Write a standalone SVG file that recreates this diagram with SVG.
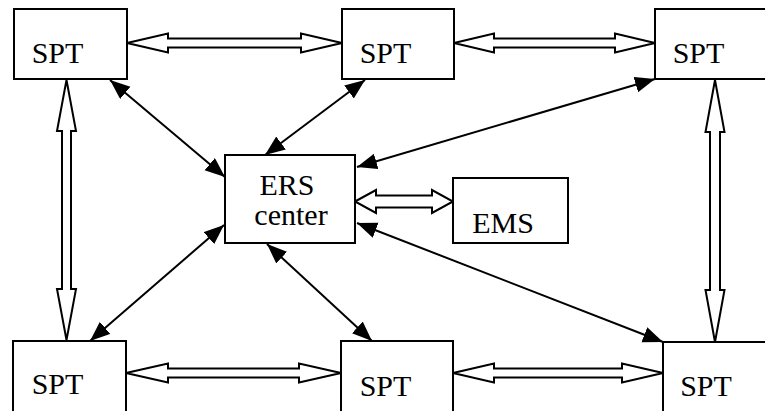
<svg xmlns="http://www.w3.org/2000/svg" width="765" height="411" viewBox="0 0 765 411">
  <style>
    .box { fill: #fff; stroke: #000; stroke-width: 2; }
    .lbl { font-family: "Liberation Serif", "Times New Roman", serif; font-size: 30px; fill: #000; text-anchor: middle; }
    .link { stroke: #000; stroke-width: 2; fill: none; marker-start: url(#head); marker-end: url(#head); }
    .pipe { fill: #fff; stroke: #000; stroke-width: 2; stroke-linejoin: miter; }
  </style>
  <defs>
    <marker id="head" markerUnits="userSpaceOnUse" markerWidth="22" markerHeight="17" refX="20" refY="8" orient="auto-start-reverse">
      <path d="M0,0 L20,8 L0,16 z" fill="#000"/>
    </marker>
  </defs>
  <rect width="765" height="411" fill="#fff"/>

  <!-- hollow two-way links between neighbouring terminals -->
  <g id="connectors">
    <path class="pipe" d="M127,43 L168,33.5 L168,38.5 L301,38.5 L301,33.5 L342,43 L301,52.5 L301,47.5 L168,47.5 L168,52.5 z"/>
    <path class="pipe" d="M454,43 L494,33.5 L494,38.5 L615,38.5 L615,33.5 L655,43 L615,52.5 L615,47.5 L494,47.5 L494,52.5 z"/>
    <path class="pipe" d="M126,373 L168,363.5 L168,368.5 L299,368.5 L299,363.5 L341,373 L299,382.5 L299,377.5 L168,377.5 L168,382.5 z"/>
    <path class="pipe" d="M453,373 L494,363.5 L494,368.5 L622,368.5 L622,363.5 L663,373 L622,382.5 L622,377.5 L494,377.5 L494,382.5 z"/>
    <path class="pipe" d="M66.5,80 L57,131 L62,131 L62,289 L57,289 L66.5,340 L76,289 L71,289 L71,131 L76,131 z"/>
    <path class="pipe" d="M715,80 L705.5,132 L710,132 L710,290 L705.5,290 L715,342 L724.5,290 L720,290 L720,132 L724.5,132 z"/>
    <path class="pipe" d="M355,201.5 L376,190 L376,195.5 L432,195.5 L432,190 L453,201.5 L432,213 L432,207.5 L376,207.5 L376,213 z"/>

    <!-- solid two-way links to the ERS center -->
    <line class="link" x1="110" y1="80" x2="225" y2="177"/>
    <line class="link" x1="365" y1="80" x2="265" y2="155"/>
    <line class="link" x1="655" y1="79" x2="357" y2="167"/>
    <line class="link" x1="90" y1="341" x2="224" y2="225"/>
    <line class="link" x1="372" y1="341" x2="267" y2="244"/>
    <line class="link" x1="663" y1="342" x2="357" y2="223"/>
  </g>

  <g id="spt-top-left">
    <rect class="box" x="14" y="9" width="113" height="70"/>
    <text class="lbl" x="57.5" y="63">SPT</text>
  </g>
  <g id="spt-top-mid">
    <rect class="box" x="342" y="9" width="112" height="70"/>
    <text class="lbl" x="385.5" y="63">SPT</text>
  </g>
  <g id="spt-top-right">
    <rect class="box" x="655" y="9" width="130" height="70"/>
    <text class="lbl" x="698.5" y="63">SPT</text>
  </g>
  <g id="spt-bottom-left">
    <rect class="box" x="13" y="341" width="113" height="90"/>
    <text class="lbl" x="57.5" y="394">SPT</text>
  </g>
  <g id="spt-bottom-mid">
    <rect class="box" x="341" y="341" width="112" height="90"/>
    <text class="lbl" x="385.5" y="396">SPT</text>
  </g>
  <g id="spt-bottom-right">
    <rect class="box" x="663" y="342" width="130" height="90"/>
    <text class="lbl" x="706" y="396">SPT</text>
  </g>
  <g id="ers-center">
    <rect class="box" x="225" y="155" width="130" height="88"/>
    <text class="lbl" x="287" y="195">ERS</text>
    <text class="lbl" x="291" y="225">center</text>
  </g>
  <g id="ems">
    <rect class="box" x="453" y="178" width="115" height="65"/>
    <text class="lbl" x="503" y="233">EMS</text>
  </g>
</svg>
